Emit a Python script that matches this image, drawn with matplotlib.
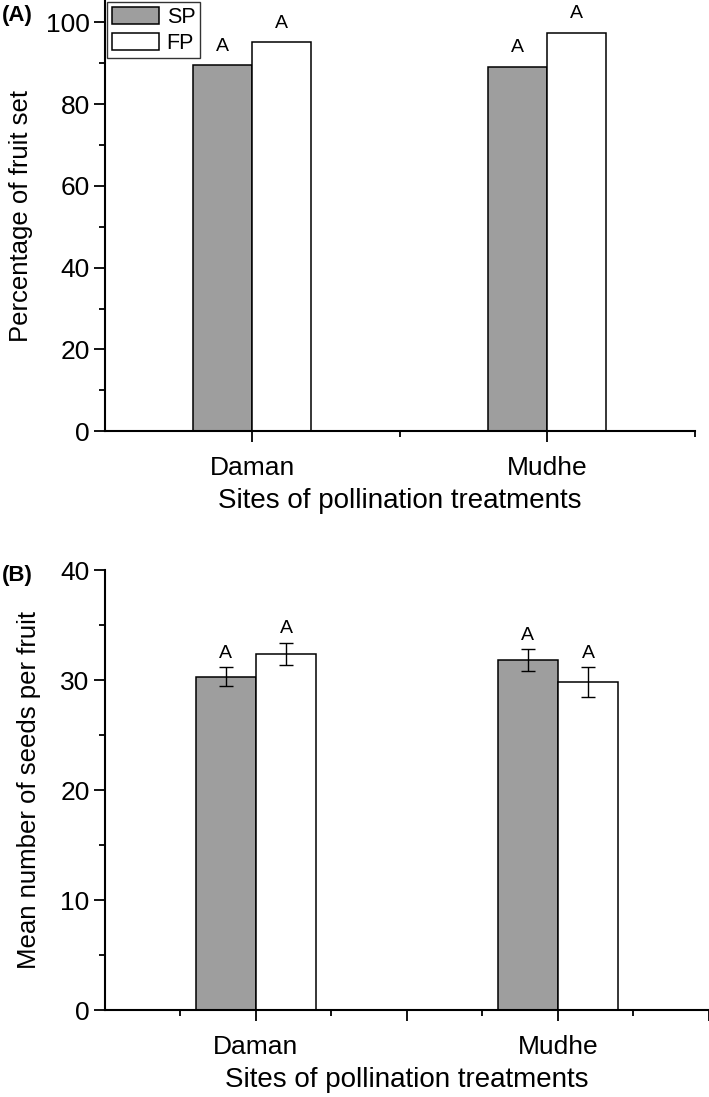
import numpy as np
import matplotlib
matplotlib.use('Agg')
import matplotlib.pyplot as plt
from matplotlib.ticker import FixedLocator, MultipleLocator

plt.rcParams['font.family'] = ['Liberation Sans', 'DejaVu Sans']

sites = ['Daman', 'Mudhe']
treatments = ['SP', 'FP']

# panel A: percentage of fruit set
fruit_sp = [89.5, 89.2]
fruit_fp = [95.1, 97.5]

# panel B: mean seeds per fruit with error bars
seeds_sp = [30.3, 31.8]
seeds_fp = [32.4, 29.8]
seeds_sp_err = [0.85, 1.0]
seeds_fp_err = [1.0, 1.35]

letters_a = [['A', 'A'], ['A', 'A']]
letters_b = [['A', 'A'], ['A', 'A']]

GRAY = '#9e9e9e'
W = 0.2

fig = plt.figure(figsize=(7.09, 10.97), dpi=100)
axA = fig.add_axes([0.148, 0.607, 0.832, 0.393])
axB = fig.add_axes([0.148, 0.0793, 0.852, 0.401])


def style_axes(ax, ylim, ymajor, yminor, xmajor, xminor, xlabels):
    for s in ['top', 'right']:
        ax.spines[s].set_visible(False)
    for s in ['left', 'bottom']:
        ax.spines[s].set_linewidth(1.5)
    ax.set_xlim(0.5, 2.5)
    ax.set_ylim(*ylim)
    ax.xaxis.set_major_locator(FixedLocator(xmajor))
    ax.set_xticklabels(xlabels)
    ax.xaxis.set_minor_locator(FixedLocator(xminor))
    ax.yaxis.set_major_locator(MultipleLocator(ymajor))
    ax.yaxis.set_minor_locator(MultipleLocator(yminor))
    ax.tick_params(axis='both', which='major', direction='out', length=8, width=1.3,
                   labelsize=19, pad=3)
    ax.tick_params(axis='both', which='minor', direction='out', length=4.5, width=1.3)
    ax.tick_params(axis='x', which='major', pad=10)
    ax.set_xlabel('Sites of pollination treatments', fontsize=20, labelpad=6)


x = np.arange(1, len(sites) + 1)

# panel A
axA.bar(x - W / 2, fruit_sp, W, color=GRAY, edgecolor='black', linewidth=1.1, label='SP')
axA.bar(x + W / 2, fruit_fp, W, color='white', edgecolor='black', linewidth=1.1, label='FP')
for i in range(len(sites)):
    axA.text(x[i] - W / 2, fruit_sp[i] + 2.5, letters_a[i][0], ha='center', va='bottom', fontsize=14)
    axA.text(x[i] + W / 2, fruit_fp[i] + 2.5, letters_a[i][1], ha='center', va='bottom', fontsize=14)
style_axes(axA, (0, 105.5), 20, 10, [1, 2], [1.5, 2.5], sites)
axA.set_ylabel('Percentage of fruit set', fontsize=18.5, labelpad=9)
leg = axA.legend(loc='upper left', bbox_to_anchor=(0.0, 1.0), borderaxespad=0.1,
                 fontsize=15.5, handlelength=2.2, handleheight=0.85, handletextpad=0.35,
                 labelspacing=0.22, borderpad=0.22, fancybox=False, framealpha=1)
leg.get_frame().set_edgecolor('#333333')
leg.get_frame().set_linewidth(1.0)
fig.text(0.003, 0.986, '(A)', fontsize=16, fontweight='bold', va='center', ha='left')

# panel B
axB.bar(x - W / 2, seeds_sp, W, color=GRAY, edgecolor='black', linewidth=1.1)
axB.bar(x + W / 2, seeds_fp, W, color='white', edgecolor='black', linewidth=1.1)
axB.errorbar(x - W / 2, seeds_sp, yerr=seeds_sp_err, fmt='none', ecolor='black',
             elinewidth=1, capsize=5, capthick=1)
axB.errorbar(x + W / 2, seeds_fp, yerr=seeds_fp_err, fmt='none', ecolor='black',
             elinewidth=1, capsize=5, capthick=1)
for i in range(len(sites)):
    axB.text(x[i] - W / 2, seeds_sp[i] + seeds_sp_err[i] + 0.5, letters_b[i][0],
             ha='center', va='bottom', fontsize=14)
    axB.text(x[i] + W / 2, seeds_fp[i] + seeds_fp_err[i] + 0.5, letters_b[i][1],
             ha='center', va='bottom', fontsize=14)
style_axes(axB, (0, 40), 10, 5, [1, 1.5, 2, 2.5], [0.75, 1.25, 1.75, 2.25],
           ['Daman', '', 'Mudhe', ''])
axB.set_ylabel('Mean number of seeds per fruit', fontsize=18.5, labelpad=14)
fig.text(0.003, 0.475, '(B)', fontsize=16, fontweight='bold', va='center', ha='left')

fig.savefig('out.png', dpi=100)
